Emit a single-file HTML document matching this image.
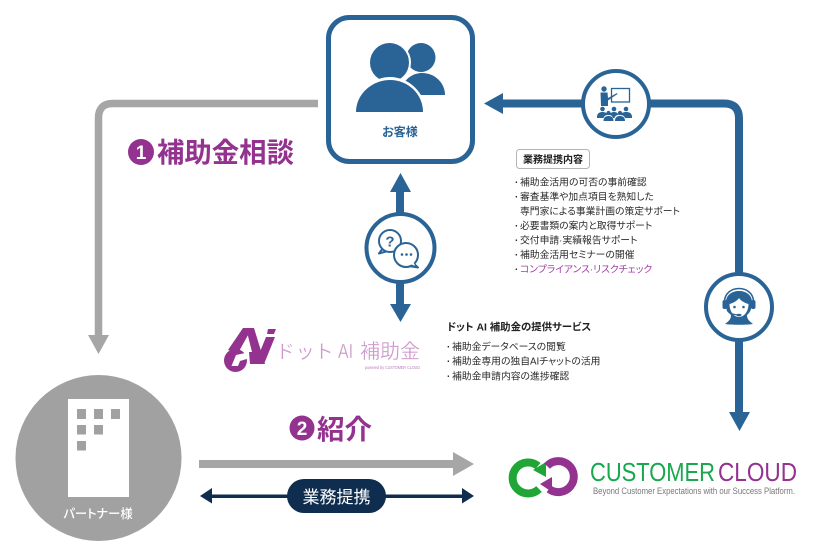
<!DOCTYPE html>
<html lang="ja"><head><meta charset="utf-8"><title>補助金相談 diagram</title>
<style>
html,body{margin:0;padding:0;background:#fff}
svg{display:block;filter:blur(.3px)}
text{font-family:"Liberation Sans","Noto Sans CJK JP",sans-serif;font-feature-settings:"palt"}
</style></head><body>
<svg width="814" height="554" viewBox="0 0 814 554" xmlns="http://www.w3.org/2000/svg">
<!-- gray elbow connector -->
<path d="M318 103.500H113Q98.500 103.500 98.500 118V338" fill="none" stroke="#a5a6a5" stroke-width="7.500"/>
<polygon points="88,335 109,335 98.500,354" fill="#a5a6a5"/>
<!-- blue elbow connector -->
<path d="M500 103.500H724Q739 103.500 739 118.500V415" fill="none" stroke="#2a6496" stroke-width="8"/>
<polygon points="484,103.500 503,93 503,114" fill="#2a6496"/>
<polygon points="729,412 750,412 739.500,431" fill="#2a6496"/>
<!-- vertical arrows -->
<rect x="396" y="188" width="8" height="120" fill="#2a6496"/>
<polygon points="400.500,173 390,192 411,192" fill="#2a6496"/>
<polygon points="400.500,322 390,304 411,304" fill="#2a6496"/>
<!-- customer box -->
<rect x="328.500" y="17.500" width="144" height="144" rx="21" fill="#fff" stroke="#2a6496" stroke-width="5"/>
<circle cx="421" cy="57.500" r="14.500" fill="#2a6496"/>
<path d="M400 95C402 78 414 73 422 73C435 73 445 83 445 95Z" fill="#2a6496"/>
<circle cx="389.500" cy="62.500" r="21.500" fill="#fff"/>
<circle cx="389.500" cy="62.500" r="19.500" fill="#2a6496"/>
<path d="M353 114C353 92 372 77 390 77C408 77 426 92 426 114Z" fill="#fff"/>
<path d="M356 112C356 94 372 80 390 80C408 80 423 94 423 112Z" fill="#2a6496"/>
<text x="400" y="136" font-size="12" font-weight="700" fill="#2a6496" text-anchor="middle">お客様</text>
<!-- teacher circle -->
<circle cx="616" cy="104" r="33" fill="#fff" stroke="#2a6496" stroke-width="4"/>
<g fill="#2a6496">
<rect x="611.500" y="88.500" width="18" height="13.500" fill="#fff" stroke="#2a6496" stroke-width="1.300"/>
<circle cx="604" cy="89" r="2.700"/>
<path d="M600.500 92.500H607.500L608 98L617 93L617.500 94L608 100.500V106H601Z"/>
<circle cx="602.500" cy="109" r="2.300"/><circle cx="614" cy="109" r="2.300"/><circle cx="626" cy="109" r="2.300"/>
<circle cx="608.500" cy="113" r="2.100"/><circle cx="620" cy="113" r="2.100"/>
<path d="M597 117C597 113 600 112 602.500 112C605 112 607 113 607.500 115C606 115 604 116 603.500 118H597ZM609.500 115C610 113 612 112 614 112C616 112 618 113 618.500 115C616.500 115 615 116 614.500 118H613C612.500 116 611 115 609.500 115ZM620.500 115C621 113 623.500 112 626 112C629 112 632 113 632 117V118H625C624.500 116 622.500 115 620.500 115ZM603.500 121C603.500 117 606 116 608.500 116C611 116 613.500 117 613.500 121ZM615 121C615 117 617.500 116 620 116C622.500 116 625 117 625 121Z"/>
</g>
<!-- chat circle -->
<circle cx="400.500" cy="248" r="34" fill="#fff" stroke="#2a6496" stroke-width="4"/>
<g stroke="#2a6496" stroke-width="2" fill="#fff" stroke-linejoin="round">
<polygon points="383,248 379,253.500 388,251"/>
<circle cx="390" cy="241" r="11"/>
<polygon points="413,263 418,267.500 409,266"/>
<circle cx="406" cy="255" r="12"/>
</g>
<path d="M384 248.500l6-3.500 -1 5zM412.500 260.500l2.500 5 -6-1.500z" fill="#fff"/>
<text x="390" y="246.500" font-size="15" font-weight="700" fill="#2a6496" text-anchor="middle">?</text>
<circle cx="402" cy="254.500" r="1.300" fill="#2a6496"/><circle cx="406.500" cy="254.500" r="1.300" fill="#2a6496"/><circle cx="411" cy="254.500" r="1.300" fill="#2a6496"/>
<!-- headset circle -->
<circle cx="739" cy="307" r="33" fill="#fff" stroke="#2a6496" stroke-width="4"/>
<g>
<path d="M725 324C729 321 731 319 731 315C727 312 726 307 726 302C726 295 732 291 739 291C746 291 752 295 752 302C752 307 751 312 747 315C747 319 749 321 753 324C747 325 731 325 725 324Z" fill="#2a6496"/>
<path d="M729.500 304C733 303 737 301 739 298C741 301 745 303 748.500 304C748.500 311 744.500 317 739 317C733.500 317 729.500 311 729.500 304Z" fill="#fff"/>
<path d="M724.500 302C724.500 284 753.500 284 753.500 302" fill="none" stroke="#2a6496" stroke-width="1.500"/>
<rect x="722.500" y="300" width="4.500" height="9" rx="2" fill="#2a6496"/>
<rect x="751" y="300" width="4.500" height="9" rx="2" fill="#2a6496"/>
<circle cx="734.500" cy="307" r="1.300" fill="#2a6496"/><circle cx="743.500" cy="307" r="1.300" fill="#2a6496"/>
<path d="M727 308C727 313 731 314 738 315" fill="none" stroke="#2a6496" stroke-width="1.200"/>
<ellipse cx="739" cy="315" rx="2.500" ry="1.300" fill="#2a6496"/>
</g>
<!-- labels -->
<circle cx="141" cy="152" r="13" fill="#93338f"/>
<text x="141" y="159" font-size="19" font-weight="700" fill="#fff" text-anchor="middle">1</text>
<text x="157" y="162" font-size="27.400" font-weight="700" fill="#93338f">補助金相談</text>
<circle cx="302" cy="428" r="12.500" fill="#93338f"/>
<text x="302" y="435" font-size="19" font-weight="700" fill="#fff" text-anchor="middle">2</text>
<text x="317" y="439" font-size="27.500" font-weight="700" fill="#93338f">紹介</text>
<!-- info box -->
<rect x="516.500" y="149.500" width="73" height="19" rx="3" fill="#fff" stroke="#b5b5b5"/>
<text x="523" y="163" font-size="10" font-weight="700" fill="#222">業務提携内容</text>
<g font-size="9.800" fill="#2c2c2c">
<text x="515" y="185.500" font-weight="700">·</text><text x="520" y="185.500">補助金活用の可否の事前確認</text>
<text x="515" y="200" font-weight="700">·</text><text x="520" y="200">審査基準や加点項目を熟知した</text>
<text x="520" y="214.500">専門家による事業計画の策定サポート</text>
<text x="515" y="229" font-weight="700">·</text><text x="520" y="229">必要書類の案内と取得サポート</text>
<text x="515" y="243.500" font-weight="700">·</text><text x="520" y="243.500">交付申請·実績報告サポート</text>
<text x="515" y="258" font-weight="700">·</text><text x="520" y="258">補助金活用セミナーの開催</text>
<text x="515" y="272.500" font-weight="700">·</text><text x="520" y="272.500" fill="#a23fa6">コンプライアンス·リスクチェック</text>
</g>
<text x="447" y="330.500" font-size="10.400" font-weight="700" fill="#222">ドット AI 補助金の提供サービス</text>
<g font-size="9.800" fill="#2c2c2c">
<text x="447" y="350" font-weight="700">·</text><text x="452" y="350">補助金データベースの閲覧</text>
<text x="447" y="364.500" font-weight="700">·</text><text x="452" y="364.500">補助金専用の独自AIチャットの活用</text>
<text x="447" y="379.500" font-weight="700">·</text><text x="452" y="379.500">補助金申請内容の進捗確認</text>
</g>
<!-- Ai logo -->
<g fill="#93338f">
<circle cx="235.500" cy="360.500" r="11.500"/>
<path d="M243 328H252L238 353L228 350Z"/>
<path d="M246 328H254L265 364H255Z"/>
<path d="M255 364H264L275 337H266Z"/>
<path d="M268 329H276L274 334H267Z"/>
</g>
<path d="M231.500 366L236 355L250 352V358L240 361L238 366Z" fill="#fff"/>
<path d="M249 352L253 352L256 364L250 364Z" fill="#93338f"/>
<g fill="#cc97ca" stroke="#fff" stroke-width=".25">
<text x="278" y="358" font-size="19" textLength="54" lengthAdjust="spacing">ドット</text>
<text x="338" y="358" font-size="20" textLength="15" lengthAdjust="spacingAndGlyphs">AI</text>
<text x="360" y="358" font-size="20">補助金</text>
</g>
<text x="365" y="369" font-size="4.500" fill="#b77fb5" textLength="55" lengthAdjust="spacingAndGlyphs">powered by CUSTOMER CLOUD</text>
<!-- partner -->
<circle cx="98.500" cy="458" r="83" fill="#a0a1a0"/>
<rect x="68" y="399" width="61" height="98" fill="#fff"/>
<g fill="#a0a1a0">
<rect x="77" y="409" width="9" height="10"/><rect x="94" y="409" width="9" height="10"/><rect x="111" y="409" width="9" height="10"/>
<rect x="77" y="425" width="9" height="9.500"/><rect x="94" y="425" width="9" height="9.500"/>
<rect x="77" y="441" width="9" height="9.500"/>
</g>
<text x="98" y="518" font-size="12.300" font-weight="500" fill="#fff" text-anchor="middle">パートナー様</text>
<!-- horizontal arrows -->
<rect x="199" y="460" width="256" height="8" fill="#a5a6a5"/>
<polygon points="453,452 474,464 453,476" fill="#a5a6a5"/>
<rect x="205" y="494.500" width="262" height="3.500" fill="#0e2d4f"/>
<polygon points="200,496 212,488 212,503.500" fill="#0e2d4f"/>
<polygon points="474,496 462,488 462,503.500" fill="#0e2d4f"/>
<rect x="287" y="479" width="99" height="34" rx="17" fill="#0e2d4f"/>
<text x="336.500" y="503" font-size="17" fill="#fff" text-anchor="middle">業務提携</text>
<!-- customer cloud logo -->
<path d="M539 489A15.500 15.500 0 1 1 538 466" fill="none" stroke="#1fa637" stroke-width="8"/>
<polygon points="533,470 546,462 546,477" fill="#1fa637"/>
<path d="M547 466A15.500 15.500 0 1 1 549 489" fill="none" stroke="#93338f" stroke-width="8"/>
<polygon points="540,484 552,477 552,492" fill="#93338f"/>
<text x="590" y="481" font-size="26" fill="#1aa84f" textLength="125" lengthAdjust="spacingAndGlyphs">CUSTOMER</text>
<text x="718" y="481" font-size="26" fill="#93338f" textLength="79" lengthAdjust="spacingAndGlyphs">CLOUD</text>
<text x="593" y="494" font-size="9" fill="#777" textLength="202" lengthAdjust="spacingAndGlyphs">Beyond Customer Expectations with our Success Platform.</text>
</svg>
</body></html>
